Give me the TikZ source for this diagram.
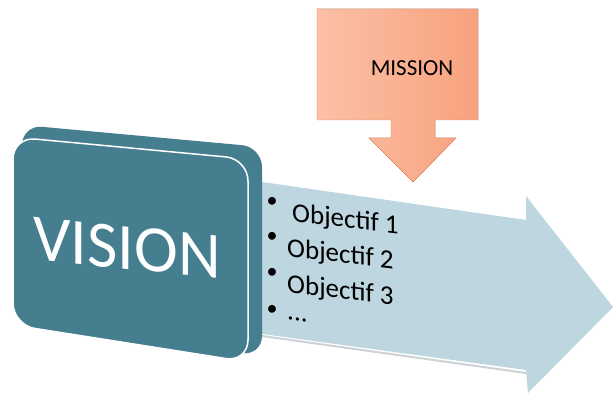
\documentclass[tikz,border=0pt]{standalone}
\usepackage{fontspec}
\setmainfont{Carlito}
\definecolor{visionteal}{RGB}{69,127,143}
\definecolor{arrowblue}{RGB}{189,214,224}
\definecolor{arrowshade}{RGB}{205,210,212}
\definecolor{missionlight}{RGB}{252,192,166}
\definecolor{missiondark}{RGB}{247,162,126}
\definecolor{missionedge}{RGB}{236,130,88}
\begin{document}
\begin{tikzpicture}[
    x=1pt, y=-1pt,
    every node/.style={inner sep=0pt},
    bigtext/.style={text=white, font=\fontsize{66}{78}\selectfont, yslant=-0.1},
    itemtext/.style={anchor=west, font=\fontsize{27}{32}\selectfont, yslant=-0.12},
    bullet/.style={font=\fontsize{22}{26}\selectfont}
  ]
  \useasboundingbox (0,0) rectangle (613,395);
  % the arrow going right
  \draw[arrowshade, line width=2pt] (262,336) -- (526,373);
  \fill[arrowblue] (255,181) -- (526,220) -- (526,196) -- (613,307) -- (528,393)
    -- (526,370) -- (255,333) -- cycle;
  % vision block, back and front
  \fill[visionteal, rounded corners=20pt] (22,125) -- (262,147) -- (262,356) -- (22,320) -- cycle;
  \filldraw[fill=visionteal, draw=white, line width=1.5pt, rounded corners=22pt]
    (13,137) -- (248,159) -- (248,362) -- (13,325) -- cycle;
  \node[bigtext] (vision) at (127,248) {VISION};
  % mission callout
  \filldraw[draw=missionedge, left color=missionlight, right color=missiondark]
    (317,9) -- (478,9) -- (478,120) -- (435,120) -- (435,138) -- (456,138)
    -- (413,182) -- (369,138) -- (391,138) -- (391,120) -- (317,120) -- cycle;
  \node[font=\fontsize{23}{27}\selectfont] (mission) at (412,68) {MISSION};
  % list of objectives
  \node[bullet] (b1) at (272,202) {•};
  \node[bullet] (b2) at (272,237) {•};
  \node[bullet] (b3) at (272,273) {•};
  \node[bullet] (b4) at (272,310) {•};
  \node[itemtext] (o1) at (292,214) {Objectif 1};
  \node[itemtext] (o2) at (287,249) {Objectif 2};
  \node[itemtext] (o3) at (287,285) {Objectif 3};
  \node[itemtext] (o4) at (287,318) {...};
\end{tikzpicture}
\end{document}
